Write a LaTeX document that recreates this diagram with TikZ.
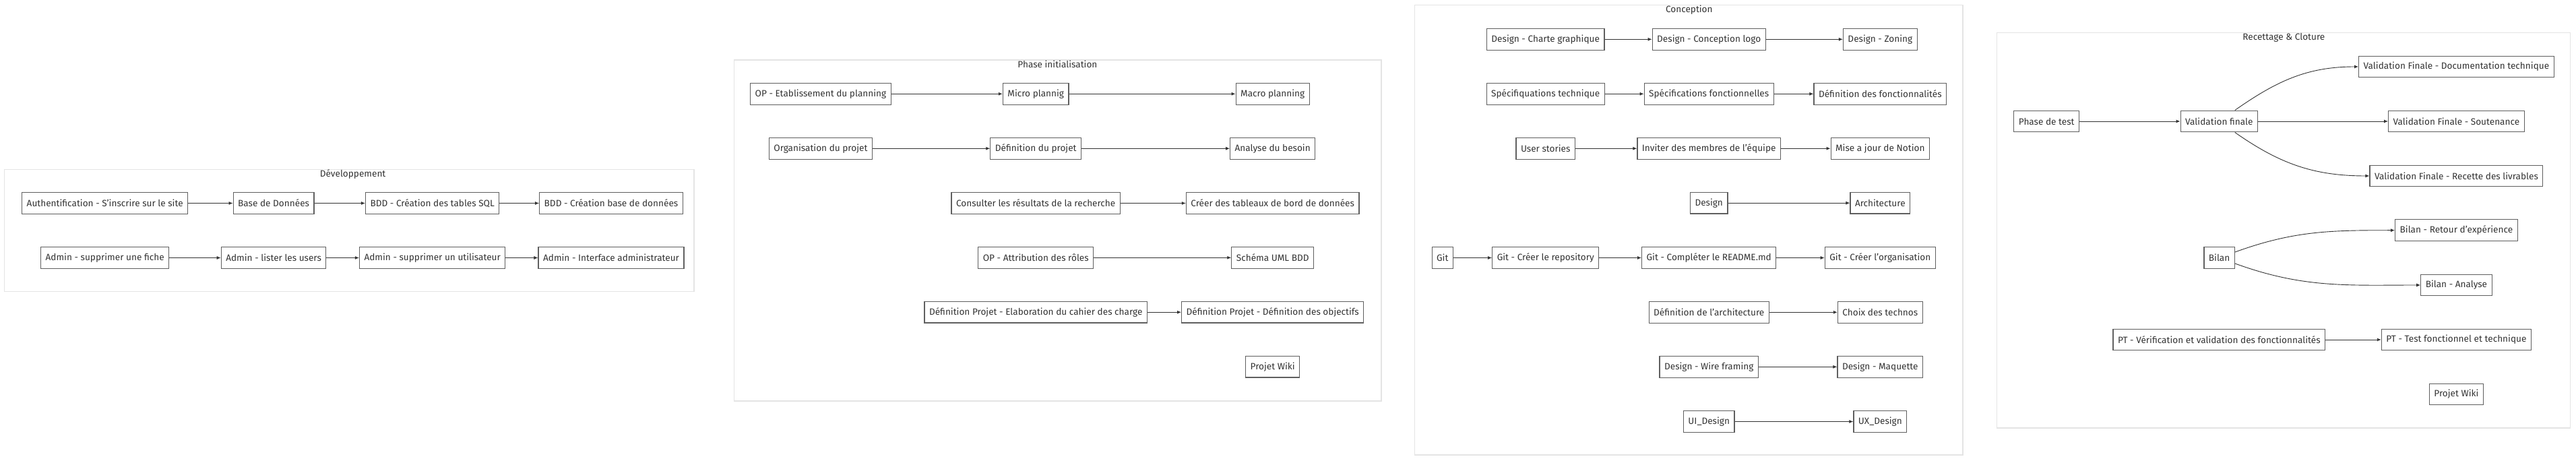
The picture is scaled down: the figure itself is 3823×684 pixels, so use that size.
\documentclass[tikz,border=0pt]{standalone}
\usepackage{fontspec}
\setmainfont{Fira Sans}
\usetikzlibrary{arrows.meta}
\definecolor{trait}{HTML}{5F5F5F}
\definecolor{texte}{HTML}{333333}
\definecolor{cadre}{HTML}{E4E4E4}
\begin{document}
\begin{tikzpicture}[x=1pt, y=-1pt,
	font=\fontsize{13.6pt}{16pt}\selectfont,
	tache/.style={draw=trait, line width=1.2pt, fill=white, text=texte,
		minimum height=31.7pt, inner xsep=7pt, inner ysep=0pt},
	groupe/.style={draw=cadre, line width=1.2pt, fill=white},
	titre/.style={text=texte, inner sep=0pt},
	fleche/.style={draw=texte, line width=0.9pt, -{Latex[length=6pt,width=5pt]}}]
\useasboundingbox (0, 0) rectangle (3823, 684);
\def\etape#1#2#3#4{% {nom}{x}{y}{texte}
	\node[tache] (#1) at (#2, #3) {#4}
}

% Développement
\draw[groupe] (6.7, 251.7) rectangle (1030, 432.7);
\node[titre] (tdev) at (523.6, 258.3) {Développement};
\etape{auth}{155.7}{301.5}{Authentification - S'inscrire sur le site};
\etape{bdd}{406.1}{301.5}{Base de Données};
\etape{bddtables}{641.7}{301.5}{BDD - Création des tables SQL};
\etape{bddbase}{907}{301.5}{BDD - Création base de données};
\etape{adminfiche}{155.7}{382.5}{Admin - supprimer une fiche};
\etape{adminlister}{406.1}{382.5}{Admin - lister les users};
\etape{adminsuppr}{641.7}{382.5}{Admin - supprimer un utilisateur};
\etape{admininterface}{907}{382.5}{Admin - Interface administrateur};

% Phase initialisation
\draw[groupe] (1089.4, 89) rectangle (2050, 595);
\node[titre] (tinit) at (1569.4, 95.7) {Phase initialisation};
\etape{opplanning}{1217.9}{139.3}{OP - Etablissement du planning};
\etape{micro}{1537.2}{139.3}{Micro plannig};
\etape{macro}{1888.7}{139.3}{Macro planning};
\etape{organisation}{1217.9}{220.3}{Organisation du projet};
\etape{definition}{1537.2}{220.3}{Définition du projet};
\etape{besoin}{1888.7}{220.3}{Analyse du besoin};
\etape{consulter}{1537.2}{301.5}{Consulter les résultats de la recherche};
\etape{tableaux}{1888.7}{301.5}{Créer des tableaux de bord de données};
\etape{roles}{1537.2}{382.3}{OP - Attribution des rôles};
\etape{uml}{1888.7}{382.3}{Schéma UML BDD};
\etape{cahier}{1537.2}{463.2}{Définition Projet - Elaboration du cahier des charge};
\etape{objectifs}{1888.7}{463.2}{Définition Projet - Définition des objectifs};
\etape{wikiinit}{1888.7}{544.2}{Projet Wiki};

% Conception
\draw[groupe] (2099.4, 7.3) rectangle (2913, 675);
\node[titre] (tconc) at (2506.8, 15) {Conception};
\etape{charte}{2293.7}{58.3}{Design - Charte graphique};
\etape{logo}{2536.2}{58.3}{Design - Conception logo};
\etape{zoning}{2790.3}{58.3}{Design - Zoning};
\etape{spectech}{2293.7}{139.3}{Spécifiquations technique};
\etape{specfonc}{2536.2}{139.3}{Spécifications fonctionnelles};
\etape{fonctionnalites}{2790.3}{139.3}{Définition des fonctionnalités};
\etape{stories}{2293.7}{220.3}{User stories};
\etape{inviter}{2536.2}{220.3}{Inviter des membres de l'équipe};
\etape{notion}{2790.3}{220.3}{Mise a jour de Notion};
\etape{design}{2536.2}{301.2}{Design};
\etape{architecture}{2790.3}{301.2}{Architecture};
\etape{git}{2140.8}{382.5}{Git};
\etape{repo}{2293.7}{382.5}{Git - Créer le repository};
\etape{readme}{2536.2}{382.5}{Git - Compléter le README.md};
\etape{orga}{2790.3}{382.5}{Git - Créer l'organisation};
\etape{defarchi}{2536.2}{463.3}{Définition de l'architecture};
\etape{technos}{2790.3}{463.3}{Choix des technos};
\etape{wire}{2536.2}{544.3}{Design - Wire framing};
\etape{maquette}{2790.3}{544.3}{Design - Maquette};
\etape{ui}{2536.2}{625.5}{UI\_Design};
\etape{ux}{2790.3}{625.5}{UX\_Design};

% Recettage & Cloture
\draw[groupe] (2963.4, 48.3) rectangle (3814.7, 635);
\node[titre] (trec) at (3389.3, 56) {Recettage \& Cloture};
\etape{test}{3037.2}{180}{Phase de test};
\etape{validation}{3293.3}{180}{Validation finale};
\etape{doc}{3645.4}{99}{Validation Finale - Documentation technique};
\etape{soutenance}{3645.4}{180}{Validation Finale - Soutenance};
\etape{recette}{3645.4}{261}{Validation Finale - Recette des livrables};
\etape{retour}{3645.4}{341.7}{Bilan - Retour d'expérience};
\etape{bilan}{3293.6}{382.5}{Bilan};
\etape{analyse}{3645.4}{423}{Bilan - Analyse};
\etape{verif}{3293.3}{504}{PT - Vérification et validation des fonctionnalités};
\etape{pttest}{3645.4}{504}{PT - Test fonctionnel et technique};
\etape{wikirec}{3645.4}{585}{Projet Wiki};

\foreach \a/\b in {auth/bdd, bdd/bddtables, bddtables/bddbase,
	adminfiche/adminlister, adminlister/adminsuppr, adminsuppr/admininterface,
	opplanning/micro, micro/macro, organisation/definition, definition/besoin,
	consulter/tableaux, roles/uml, cahier/objectifs,
	charte/logo, logo/zoning, spectech/specfonc, specfonc/fonctionnalites,
	stories/inviter, inviter/notion, design/architecture,
	git/repo, repo/readme, readme/orga, defarchi/technos, wire/maquette, ui/ux,
	test/validation, validation/soutenance, verif/pttest}
	\draw[fleche] (\a) -- (\b);
\draw[fleche] (validation) to[out=35, in=180] (doc);
\draw[fleche] (validation) to[out=-35, in=180] (recette);
\draw[fleche] (bilan) to[out=20, in=180] (retour);
\draw[fleche] (bilan) to[out=-20, in=180] (analyse);
\end{tikzpicture}
\end{document}
